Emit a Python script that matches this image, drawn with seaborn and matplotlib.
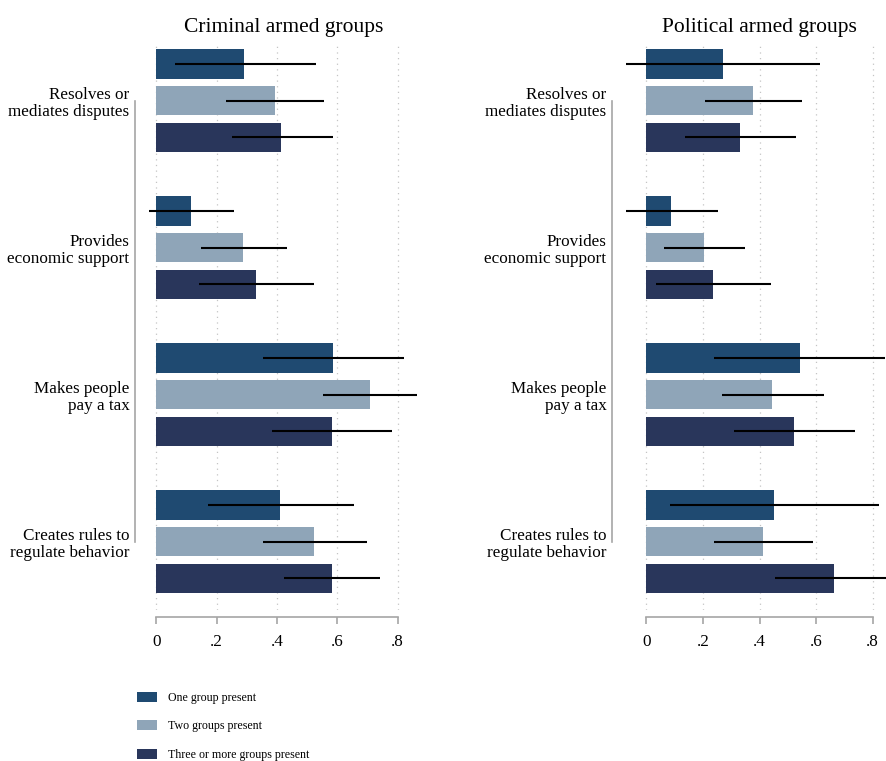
import numpy as np
import pandas as pd
import matplotlib
matplotlib.use("Agg")
import matplotlib.pyplot as plt
from matplotlib.patches import Patch
import seaborn as sns

# Activities reported for each type of armed group
activities = ["Resolves or\nmediates disputes", "Provides\neconomic support",
              "Makes people\npay a tax", "Creates rules to\nregulate behavior"]
groups = ["One group present", "Two groups present", "Three or more groups present"]
colors = ["#1f4a71", "#8fa5b8", "#29365b"]

# Criminal armed groups: share and 95% CI, per activity, per number of groups
crim_one = [0.292, 0.116, 0.585, 0.410]
crim_two = [0.392, 0.288, 0.707, 0.523]
crim_three = [0.414, 0.332, 0.581, 0.581]
crim_one_lo = [0.061, -0.023, 0.355, 0.170]
crim_one_hi = [0.528, 0.259, 0.821, 0.656]
crim_two_lo = [0.232, 0.148, 0.553, 0.355]
crim_two_hi = [0.556, 0.432, 0.865, 0.699]
crim_three_lo = [0.250, 0.143, 0.383, 0.423]
crim_three_hi = [0.584, 0.523, 0.782, 0.743]

# Political armed groups
pol_one = [0.270, 0.087, 0.543, 0.452]
pol_two = [0.376, 0.203, 0.445, 0.411]
pol_three = [0.330, 0.234, 0.522, 0.664]
pol_one_lo = [-0.072, -0.073, 0.241, 0.084]
pol_one_hi = [0.615, 0.252, 0.845, 0.823]
pol_two_lo = [0.207, 0.064, 0.266, 0.238]
pol_two_hi = [0.549, 0.349, 0.629, 0.588]
pol_three_lo = [0.137, 0.034, 0.310, 0.455]
pol_three_hi = [0.528, 0.441, 0.736, 0.873]

xticks = [0, 0.2, 0.4, 0.6, 0.8]
xticklabels = ["0", ".2", ".4", ".6", ".8"]

panels = [
    ("Criminal armed groups",
     [crim_one, crim_two, crim_three],
     [crim_one_lo, crim_two_lo, crim_three_lo],
     [crim_one_hi, crim_two_hi, crim_three_hi]),
    ("Political armed groups",
     [pol_one, pol_two, pol_three],
     [pol_one_lo, pol_two_lo, pol_three_lo],
     [pol_one_hi, pol_two_hi, pol_three_hi]),
]

sns.set_theme(style="white")
plt.rcParams["font.family"] = ["Liberation Serif", "DejaVu Serif"]

W, H = 887, 761
fig = plt.figure(figsize=(W / 100, H / 100), dpi=100)

# axes boxes in pixels: (left, right, top, bottom) and x-range
boxes = [((135, 432, 43, 610), (-0.0706, 0.9137)),
         ((612, 907, 43, 610), (-0.121, 0.921))]

AXIS_GRAY = "#a6a6a6"
LABEL_SIZE = 12.3

for (title, means, los, his), ((l, r, t, b), xlim) in zip(panels, boxes):
    ax = fig.add_axes([l / W, (H - b) / H, (r - l) / W, (b - t) / H])
    rows = []
    for gi, (g, m, lo, hi) in enumerate(zip(groups, means, los, his)):
        for ai, act in enumerate(activities):
            rows.append({"group": g, "activity": act, "pos": ai * 4 + gi,
                         "share": m[ai], "lo": lo[ai], "hi": hi[ai]})
    df = pd.DataFrame(rows)

    sns.barplot(data=df, x="share", y="pos", hue="group", hue_order=groups,
                palette=colors, orient="h", native_scale=True, dodge=False,
                width=0.8, errorbar=None, legend=False, linewidth=0,
                saturation=1, ax=ax)
    ax.hlines(df["pos"], df["lo"], df["hi"], color="black", linewidth=1.5,
              zorder=4)

    ax.set_xlim(*xlim)
    ax.set_ylim(14.86, -0.571)
    ax.set_xlabel("")
    ax.set_ylabel("")

    # dotted vertical grid
    for xv in xticks:
        ax.axvline(xv, color="#c4c4c4", linewidth=0.9, linestyle=(0, (1, 3.5)),
                   zorder=0)

    for s in ["top", "right"]:
        ax.spines[s].set_visible(False)
    ax.spines["left"].set_bounds(1, 13)
    ax.spines["left"].set_color(AXIS_GRAY)
    ax.spines["left"].set_linewidth(1.2)
    ax.spines["bottom"].set_bounds(0, 0.8)
    ax.spines["bottom"].set_color(AXIS_GRAY)
    ax.spines["bottom"].set_linewidth(1.2)
    ax.spines["bottom"].set_position(("outward", 5))

    ax.set_xticks(xticks)
    ax.set_xticklabels(xticklabels)
    ax.tick_params(axis="x", direction="out", length=5, width=1.2,
                   color=AXIS_GRAY, pad=7, labelsize=LABEL_SIZE,
                   labelcolor="black", bottom=True)
    ax.set_yticks([1, 5, 9, 13])
    ax.set_yticklabels(activities)
    ax.tick_params(axis="y", length=0, pad=4, labelsize=LABEL_SIZE,
                   labelcolor="black")
    for lab in ax.get_yticklabels():
        lab.set_linespacing(1.12)
        lab.set_multialignment("right")

    ax.set_title(title, fontsize=15.5, pad=8, color="black")

handles = [Patch(facecolor=c, edgecolor="none") for c in colors]
fig.legend(handles, groups, loc="upper left",
           bbox_to_anchor=(132 / W, 1 - 687 / H), frameon=False,
           fontsize=8.6, handlelength=1.7, handleheight=0.95, handletextpad=0.9,
           labelspacing=1.35, borderaxespad=0, labelcolor="black")

fig.savefig("out.png", dpi=100)
